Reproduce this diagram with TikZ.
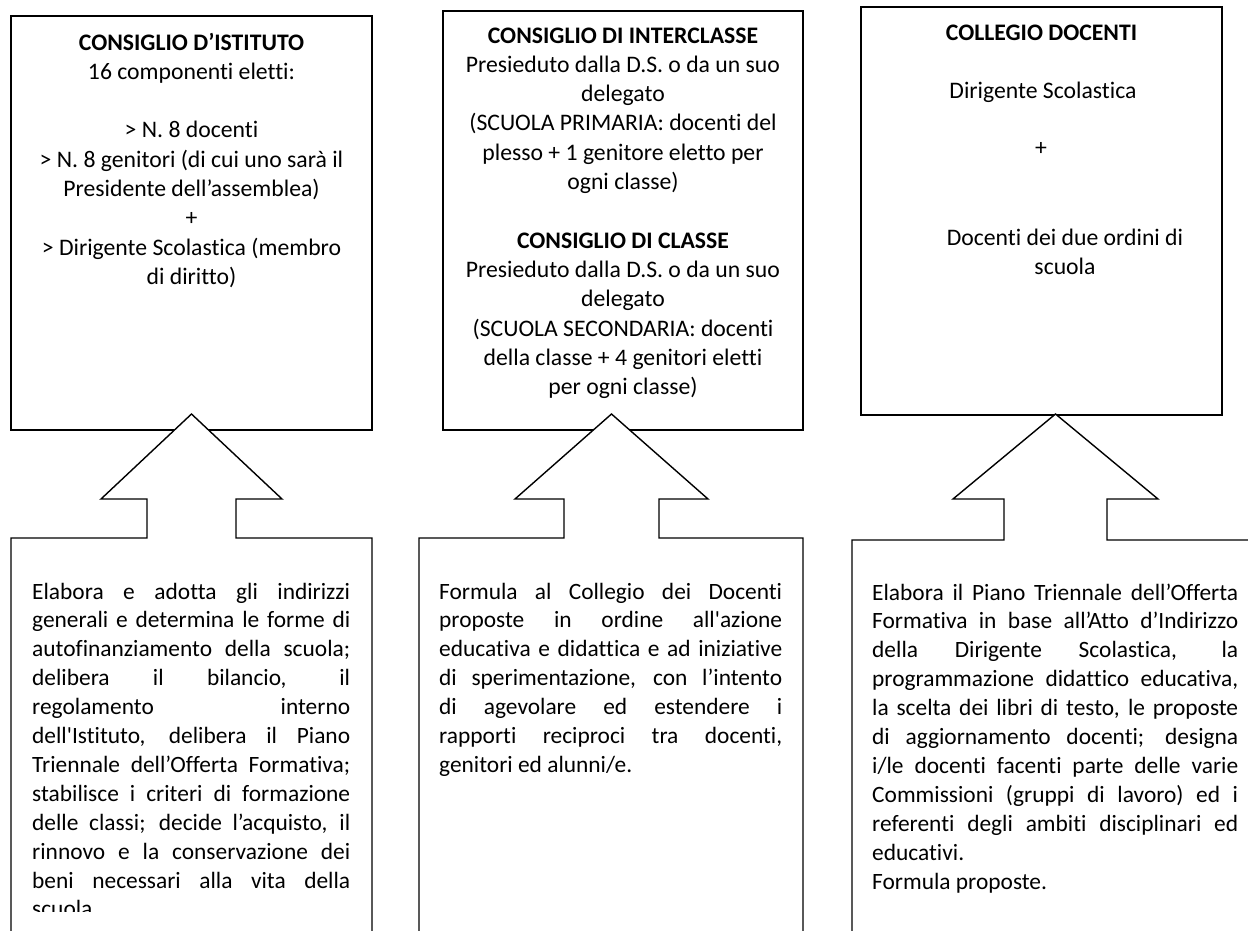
\documentclass[tikz,border=0pt]{standalone}
\usepackage{fontspec}
\setmainfont{Carlito}[Ligatures={TeXOff,CommonOff}]
\usetikzlibrary{positioning}

\begin{document}
\begin{tikzpicture}[x=1pt,y=-1pt,
	topbox/.style={draw,line width=1.8pt,inner sep=0pt},
	head/.style={text width=#1,align=flush center,anchor=base,inner sep=0pt,font=\fontsize{23.7}{29.3}\selectfont},
	body/.style={text width=#1,align=justify,anchor=base west,inner sep=0pt,font=\fontsize{23.4}{28.9}\selectfont},
	callout/.style={draw,fill=white,line width=1.4pt,line join=miter}]
		% Organi collegiali della scuola

\useasboundingbox (0,0) rectangle (1248,930);
\hyphenpenalty=10000 \tolerance=10000

% Boxes
\node[topbox,minimum width=361pt,minimum height=414pt] (istituto) at (191.5,223) {};
\node[topbox,minimum width=360pt,minimum height=419pt] (classe) at (623,220.5) {};
\node[topbox,minimum width=361pt,minimum height=408pt] (collegio) at (1041.5,211) {};

% Callouts
\draw[callout] (11,935) |- (147,538) |- (101,499) -- (191.5,414) -- (282,499) -| (236,538) -| (372,935);
\draw[callout] (419,935) |- (564,538) |- (515,499) -- (611.5,414) -- (708,499) -| (659,538) -| (803,935);
\draw[callout] (852,935) |- (1004,540) |- (953,499) -- (1055.5,414) -- (1158,499) -| (1107,540) -| (1260,935);

% Texts
\node[head=361pt] (istT) at (191.5,50) {\textbf{CONSIGLIO D’ISTITUTO}\\16 componenti eletti:\\[29.3pt]
	> N. 8 docenti\\> N. 8 genitori (di cui uno sarà il\\Presidente dell’assemblea)\\+\\> Dirigente Scolastica (membro\\di diritto)};
\node[head=360pt] (classeT) at (623,43) {\textbf{CONSIGLIO DI INTERCLASSE}\\Presieduto dalla D.S. o da un suo\\delegato\\(SCUOLA PRIMARIA: docenti del\\plesso + 1 genitore eletto per\\ogni classe)\\[29.3pt]
	\textbf{CONSIGLIO DI CLASSE}\\Presieduto dalla D.S. o da un suo\\delegato\\(SCUOLA SECONDARIA: docenti\\della classe + 4 genitori eletti\\per ogni classe)};
\node[head=361pt] (collegioT) at (1041.5,40) {\textbf{COLLEGIO DOCENTI}};
\node[head=361pt] (ds) at (1043,98) {Dirigente Scolastica};
\node[head=50pt] (piu) at (1041,155) {+};
\node[head=300pt] (docenti) at (1065,245) {Docenti dei due ordini di\\scuola};

\begin{scope}
\clip (0,0) rectangle (1248,911);
\node[body=318pt] (istB) at (32,599) {Elabora e adotta gli indirizzi\linebreak generali e determina le forme di\linebreak autofinanziamento della scuola;\linebreak delibera il bilancio, il\linebreak regolamento interno\linebreak dell'Istituto, delibera il Piano\linebreak Triennale dell’Offerta Formativa;\linebreak stabilisce i criteri di formazione\linebreak delle classi; decide l’acquisto, il\linebreak rinnovo e la conservazione dei\linebreak beni necessari alla vita della\linebreak scuola.};
\end{scope}
\node[body=343pt] (classeB) at (439,599) {Formula al Collegio dei Docenti\linebreak proposte in ordine all'azione\linebreak educativa e didattica e ad iniziative\linebreak di sperimentazione, con l’intento\linebreak di agevolare ed estendere i\linebreak rapporti reciproci tra docenti,\linebreak genitori ed alunni/e.};
\node[body=366pt] (collegioB) at (872,600) {Elabora il Piano Triennale dell’Offerta\linebreak Formativa in base all’Atto d’Indirizzo\linebreak della Dirigente Scolastica, la\linebreak programmazione didattico educativa,\linebreak la scelta dei libri di testo, le proposte\linebreak di aggiornamento docenti; designa\linebreak i/le docenti facenti parte delle varie\linebreak Commissioni (gruppi di lavoro) ed i\linebreak referenti degli ambiti disciplinari ed\linebreak educativi.\par Formula proposte.};
	\end{tikzpicture}
\end{document}
